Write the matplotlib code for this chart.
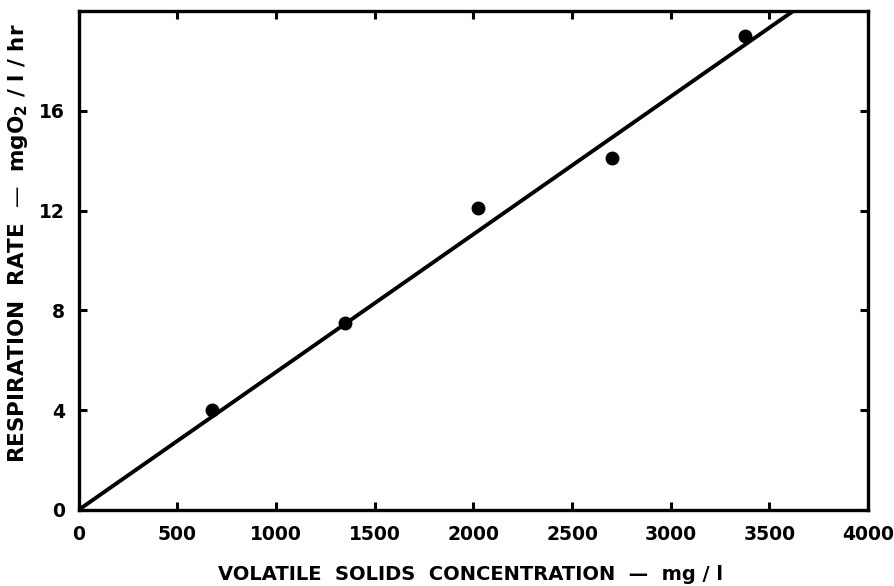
import numpy as np
import matplotlib
matplotlib.use("Agg")
import matplotlib.pyplot as plt

# 측정점 (volatile solids mg/l, respiration rate mgO2/l/hr)
vs_conc = [675, 1350, 2025, 2700, 3375]
resp_rate = [4.0, 7.5, 12.1, 14.1, 19.0]

# 회귀선 끝점
fit_x = [0, 3620]
fit_y = [0, 20]

x_ticks = [0, 500, 1000, 1500, 2000, 2500, 3000, 3500, 4000]
y_ticks = [0, 4, 8, 12, 16]

plt.rcParams["font.family"] = ["DejaVu Sans"]
plt.rcParams["font.weight"] = "bold"
plt.rcParams["mathtext.default"] = "bf"

fig = plt.figure(figsize=(8.94, 5.86), dpi=100)
ax = fig.add_axes([0.088, 0.130, 0.883, 0.851])

ax.plot(fit_x, fit_y, "k-", lw=2.8, solid_capstyle="butt")
ax.plot(vs_conc, resp_rate, "ko", ms=9)

ax.set_xlim(0, 4000)
ax.set_ylim(0, 20)
ax.set_xticks(x_ticks)
ax.set_yticks(y_ticks)
ax.tick_params(direction="in", length=6, width=2.2, labelsize=13.5,
               top=True, right=True)
ax.tick_params(axis="x", pad=11)
ax.tick_params(axis="y", pad=10)
for s in ax.spines.values():
    s.set_linewidth(2.4)

ax.set_xlabel("VOLATILE  SOLIDS  CONCENTRATION  —  mg / l",
              fontsize=14, fontweight="bold")
ax.set_ylabel(r"RESPIRATION  RATE  —  mgO$_2$ / l / hr",
              fontsize=15.5, fontweight="bold")
ax.xaxis.set_label_coords(0.496, -0.11)
ax.yaxis.set_label_coords(-0.062, 0.535)

plt.savefig("out.png", dpi=100)
plt.close()
